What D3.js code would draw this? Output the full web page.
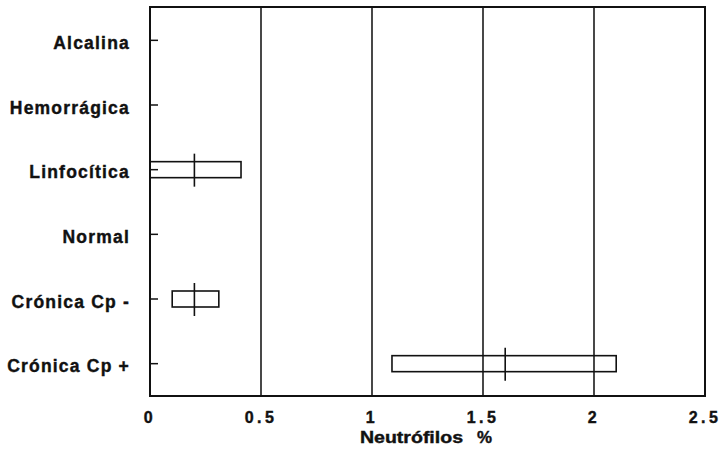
<!DOCTYPE html>
<html>
<head>
<meta charset="utf-8">
<script src="https://cdn.jsdelivr.net/npm/d3@7"></script>
<style>
  body { margin: 0; background: #fff; }
  text { font-family: "Liberation Sans", Arial, sans-serif; font-weight: bold; fill: #111; }
</style>
</head>
<body>
<div id="chart"></div>
<script>
// datos (Neutrófilos %)
const categories = ["Alcalina", "Hemorrágica", "Linfocítica", "Normal", "Crónica Cp -", "Crónica Cp +"];
const q1 = [null, null, 0, null, 0.1, 1.09];
const medians = [null, null, 0.2, null, 0.2, 1.6];
const q3 = [null, null, 0.41, null, 0.31, 2.1];
const xTicks = [0, 0.5, 1, 1.5, 2, 2.5];

const width = 721, height = 461;
const mLeft = 150, mRight = 705, mTop = 7, mBottom = 396;

const svg = d3.select("#chart").append("svg")
    .attr("width", width)
    .attr("height", height);

const x = d3.scaleLinear().domain([0, 2.5]).range([mLeft, mRight]);
const y = d3.scaleBand().domain(categories).range([mTop + 1, mBottom]);

// líneas verticales de la rejilla
svg.append("g").selectAll("line")
    .data(xTicks.slice(1, -1))
    .enter().append("line")
    .attr("x1", d => x(d)).attr("x2", d => x(d))
    .attr("y1", mTop).attr("y2", mBottom)
    .attr("stroke", "#1a1a1a").attr("stroke-width", 1.6);

// marco
svg.append("rect")
    .attr("x", mLeft).attr("y", mTop)
    .attr("width", mRight - mLeft).attr("height", mBottom - mTop)
    .attr("fill", "none").attr("stroke", "#111").attr("stroke-width", 2);

// ticks del eje y (hacia dentro)
svg.append("g").selectAll("line")
    .data(categories)
    .enter().append("line")
    .attr("x1", mLeft).attr("x2", mLeft + 8)
    .attr("y1", d => y(d) + y.bandwidth() / 2)
    .attr("y2", d => y(d) + y.bandwidth() / 2)
    .attr("stroke", "#111").attr("stroke-width", 1.5);

// etiquetas de categorías
svg.append("g").selectAll("text")
    .data(categories)
    .enter().append("text")
    .attr("x", 130)
    .attr("y", d => y(d) + y.bandwidth() / 2 + 8.5)
    .attr("text-anchor", "end")
    .attr("font-size", 17.5)
    .attr("letter-spacing", 1.2)
    .attr("stroke", "#111").attr("stroke-width", 0.4)
    .text(d => d);

// etiquetas del eje x
svg.append("g").selectAll("text")
    .data(xTicks)
    .enter().append("text")
    .attr("x", d => x(d))
    .attr("y", 423)
    .attr("text-anchor", "middle")
    .attr("font-size", 16)
    .attr("letter-spacing", 3.5)
    .attr("stroke", "#111").attr("stroke-width", 0.4)
    .text(d => d);

// título del eje x
svg.append("text")
    .attr("x", 360).attr("y", 443)
    .attr("font-size", 16)
    .attr("textLength", 103)
    .attr("lengthAdjust", "spacingAndGlyphs")
    .attr("stroke", "#111").attr("stroke-width", 0.4)
    .text("Neutrófilos");
svg.append("text")
    .attr("x", 477).attr("y", 443)
    .attr("font-size", 16)
    .attr("textLength", 15)
    .attr("lengthAdjust", "spacingAndGlyphs")
    .attr("stroke", "#111").attr("stroke-width", 0.4)
    .text("%");

// cajas
const boxes = categories.map((c, i) => ({ c, lo: q1[i], med: medians[i], hi: q3[i] }))
    .filter(d => d.lo !== null);

const g = svg.append("g");
g.selectAll("rect")
    .data(boxes)
    .enter().append("rect")
    .attr("x", d => x(d.lo))
    .attr("y", d => y(d.c) + y.bandwidth() / 2 - 8)
    .attr("width", d => x(d.hi) - x(d.lo))
    .attr("height", 16)
    .attr("fill", "none")
    .attr("stroke", "#111").attr("stroke-width", 1.6);

g.selectAll("line")
    .data(boxes)
    .enter().append("line")
    .attr("x1", d => x(d.med)).attr("x2", d => x(d.med))
    .attr("y1", d => y(d.c) + y.bandwidth() / 2 - 16)
    .attr("y2", d => y(d.c) + y.bandwidth() / 2 + 17)
    .attr("stroke", "#111").attr("stroke-width", 1.6);
</script>
</body>
</html>
